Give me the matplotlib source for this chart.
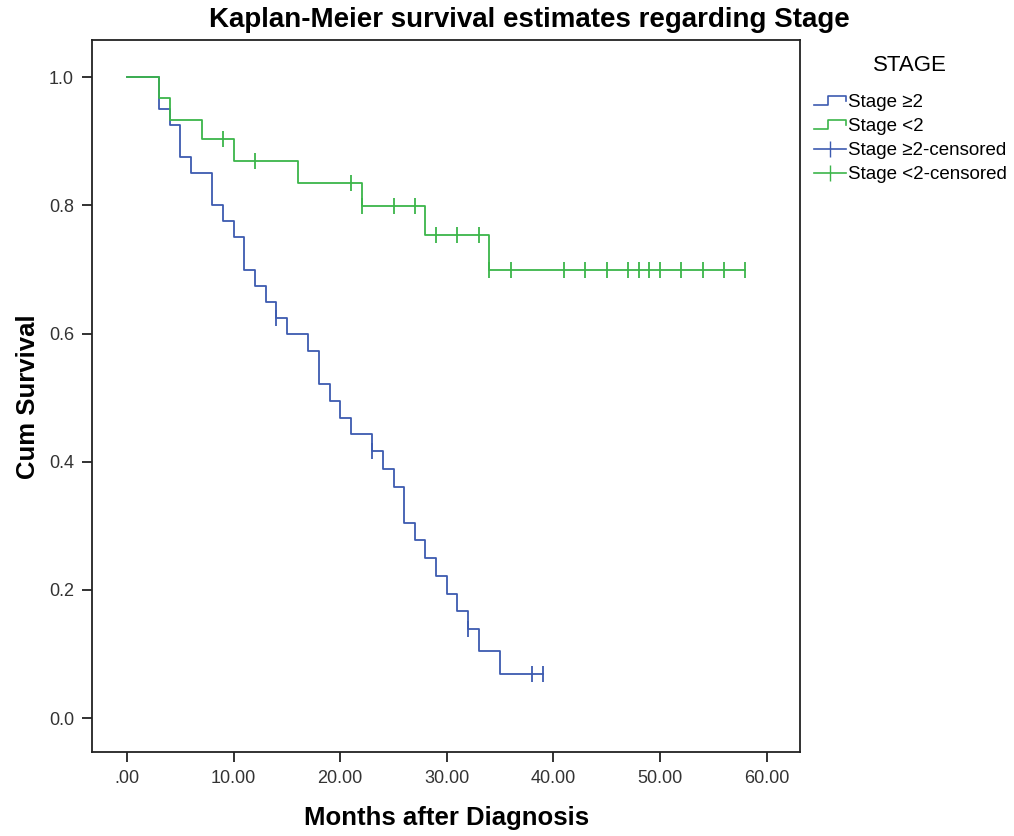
import matplotlib
matplotlib.use("Agg")
import matplotlib.pyplot as plt
from matplotlib.lines import Line2D
from matplotlib.legend_handler import HandlerBase

plt.rcParams['font.family'] = ['Liberation Sans', 'DejaVu Sans']

# Stage >= 2 : step times and survival after each step
hi_times = [0, 3, 4, 5, 6, 8, 9, 10, 11, 12, 13, 14, 15, 17, 18, 19, 20, 21,
            23, 24, 25, 26, 27, 28, 29, 30, 31, 32, 33, 35]
hi_surv = [1.0, 0.95, 0.925, 0.875, 0.85, 0.80, 0.775, 0.75, 0.70, 0.675, 0.65,
           0.625, 0.599, 0.573, 0.521, 0.495, 0.469, 0.443, 0.416, 0.388, 0.361,
           0.305, 0.278, 0.250, 0.222, 0.194, 0.167, 0.139, 0.104, 0.069]
hi_end = 39
hi_cens_t = [14, 23, 32, 38, 39]
hi_cens_s = [0.625, 0.416, 0.139, 0.069, 0.069]

# Stage < 2
lo_times = [0, 3, 4, 7, 10, 16, 22, 28, 34]
lo_surv = [1.0, 0.967, 0.934, 0.903, 0.870, 0.835, 0.799, 0.754, 0.700]
lo_end = 58
lo_cens_t = [9, 12, 21, 22, 25, 27, 29, 31, 33, 34, 36, 41, 43, 45, 47, 48, 49,
             50, 52, 54, 56, 58]
lo_cens_s = [0.903, 0.870, 0.835, 0.799, 0.799, 0.799, 0.754, 0.754, 0.754,
             0.700, 0.700, 0.700, 0.700, 0.700, 0.700, 0.700, 0.700, 0.700,
             0.700, 0.700, 0.700, 0.700]

blue = '#3d5bb0'
green = '#3cb54a'


class StepHandler(HandlerBase):
    def create_artists(self, legend, orig_handle, xdescent, ydescent,
                       width, height, fontsize, trans):
        x0 = -xdescent
        y0 = -ydescent
        xs = [x0, x0 + width * 0.45, x0 + width * 0.45, x0 + width, x0 + width]
        ys = [y0 + height * 0.15, y0 + height * 0.15, y0 + height * 0.85,
              y0 + height * 0.85, y0 + height * 0.45]
        ln = Line2D(xs, ys, color=orig_handle.get_color(), lw=1.2)
        ln.set_transform(trans)
        return [ln]


fig = plt.figure(figsize=(10.14, 8.36), dpi=100)
ax = fig.add_axes([0.0907, 0.1005, 0.698, 0.8515])

l1, = ax.step(hi_times + [hi_end], hi_surv + [hi_surv[-1]], where='post',
              color=blue, lw=1.3)
l2, = ax.step(lo_times + [lo_end], lo_surv + [lo_surv[-1]], where='post',
              color=green, lw=1.3)
c1, = ax.plot(hi_cens_t, hi_cens_s, ls='none', marker='|', ms=11, mew=1.3,
              color=blue)
c2, = ax.plot(lo_cens_t, lo_cens_s, ls='none', marker='|', ms=11, mew=1.3,
              color=green)

ax.set_xlim(-3.28, 63.1)
ax.set_ylim(-0.053, 1.058)
ax.set_xticks([0, 10, 20, 30, 40, 50, 60])
ax.set_xticklabels(['.00', '10.00', '20.00', '30.00', '40.00', '50.00', '60.00'])
ax.set_yticks([0, 0.2, 0.4, 0.6, 0.8, 1.0])
ax.set_yticklabels(['0.0', '0.2', '0.4', '0.6', '0.8', '1.0'])
ax.tick_params(labelsize=13, length=7, width=1.3, colors='#222222',
               labelcolor='#333333', pad=6)
for s in ax.spines.values():
    s.set_linewidth(1.3)
    s.set_color('#222222')

fig.text(0.522, 0.976, 'Kaplan-Meier survival estimates regarding Stage',
         fontsize=20, fontweight='bold', ha='center', va='center')
fig.text(0.44, 0.021, 'Months after Diagnosis', fontsize=18.5,
         fontweight='bold', ha='center', va='center')
fig.text(0.028, 0.526, 'Cum Survival', fontsize=18.5, fontweight='bold',
         ha='center', va='center', rotation=90)

step1 = Line2D([], [], color=blue)
step2 = Line2D([], [], color=green)
cl1 = Line2D([], [], color=blue, marker='|', ms=12, lw=1.2)
cl2 = Line2D([], [], color=green, marker='|', ms=12, lw=1.2)
leg = fig.legend([step1, step2, cl1, cl2],
                 ['Stage \u22652', 'Stage <2', 'Stage \u22652-censored',
                  'Stage <2-censored'],
                 loc='upper left', bbox_to_anchor=(0.795, 0.897),
                 frameon=False, fontsize=13.5, handlelength=1.7,
                 handletextpad=0.15, labelspacing=0.38, borderaxespad=0,
                 handler_map={step1: StepHandler(), step2: StepHandler()})
fig.text(0.897, 0.922, 'STAGE', fontsize=16, ha='center', va='center')

fig.savefig('out.png', dpi=100)
